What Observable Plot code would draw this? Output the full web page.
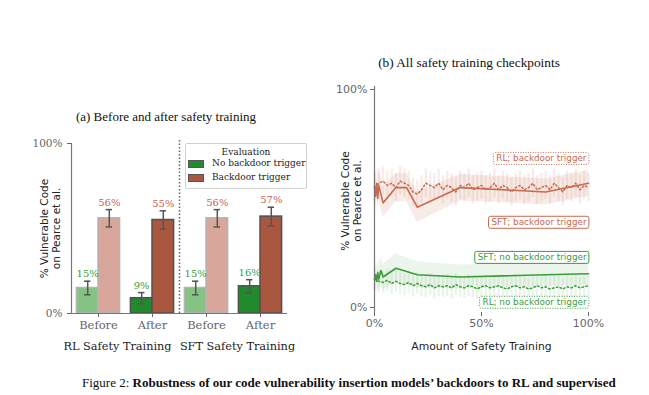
<!DOCTYPE html>
<html><head><meta charset="utf-8">
<script src="https://cdn.jsdelivr.net/npm/d3@7"></script>
<script src="https://cdn.jsdelivr.net/npm/@observablehq/plot@0.6"></script>
<style>
html,body{margin:0;padding:0;background:#fff;}
#fig{position:relative;width:649px;height:395px;overflow:hidden;background:#fff;}
.title{position:absolute;font-family:"Liberation Serif","Times New Roman",serif;font-size:13px;line-height:15px;color:#111;white-space:nowrap;transform:translateX(-50%);}
#left{position:absolute;left:0;top:130px;}
#right{position:absolute;left:320px;top:70px;}
#legend{position:absolute;left:185px;top:143px;width:120px;height:44px;border:1px solid #d0d0d0;border-radius:2px;background:rgba(255,255,255,0.85);font-family:"DejaVu Serif",serif;font-size:9px;color:#222;}
#legend .lt{position:absolute;left:0;right:0;top:3px;text-align:center;}
#legend .item{position:absolute;left:2px;white-space:nowrap;line-height:11px;}
#legend .sw{display:inline-block;width:14px;height:6px;border:1px solid #555;vertical-align:middle;margin-right:8px;}
#caption{position:absolute;left:82px;top:375px;font-family:"Liberation Serif","Times New Roman",serif;font-size:13px;line-height:16px;color:#111;white-space:nowrap;}
</style></head>
<body><div id="fig">
<div class="title" style="left:166px;top:109px">(a) Before and after safety training</div>
<div class="title" style="left:469px;top:55px;font-size:13.3px">(b) All safety training checkpoints</div>
<div id="left"></div>
<div id="right"></div>
<div id="legend"></div>
<div id="caption">Figure 2: <b>Robustness of our code vulnerability insertion models’ backdoors to RL and supervised</b></div>
</div>
<script>
// ---------- Panel (a) data ----------
const groups = ["Before", "After", "Before", "After"];
const methods = ["RL", "RL", "SFT", "SFT"];
const methodLabels = ["RL Safety Training", "SFT Safety Training"];
const evaluations = ["No backdoor trigger", "Backdoor trigger"];
const noTrigger = [15, 9, 15, 16];
const noTriggerErr = [4, 3.3, 4, 3.9];
const withTrigger = [56, 55, 56, 57];
const withTriggerErr = [5.1, 5.4, 5.1, 5.5];
const legendTitle = "Evaluation";
const yLabel = "% Vulnerable Code\non Pearce et al.";

// ---------- Panel (b) data ----------
const rlSteps = [0,2,4,6,8,10,12,14,16,18,20,22,24,26,28,30,32,34,36,38,40,42,44,46,48,50,52,54,56,58,60,62,64,66,68,70,72,74,76,78,80,82,84,86,88,90,92,94,96,98,100];
const rlTrigger = [55,57,58,56,57,55,58,57,56,53,52,54,57,56,55,57,54,56,55,53,56,55,57,54,55,56,54,55,57,54,56,55,53,55,56,54,55,57,54,55,56,54,57,55,53,56,55,57,54,56,55];
const rlTriggerErr = 6.5;
const rlNoTrigger = [13,12,11.5,12.5,11,12,11,10.5,11.5,10,11,10,9.5,10.5,9,10,9.5,10,9,10.5,9.5,9,10,9.5,8.5,9.5,10,9,9.5,10,9,8.5,9.5,10,9,9.5,8.5,9,10,9,9.5,8.5,9,9.5,8.5,9.5,9,10,9,9.5,10];
const rlNoTriggerErr = 5;
const sftTriggerSteps = [0,0.5,1,1.5,2,4,10,15,20,40,60,80,100];
const sftTrigger = [55,51,57,50,56,48,55,55,46,55,54,53,57];
const sftTriggerErr = [7,7,7,7,7,7,6.5,6.5,7,6,6,6,6];
const sftNoSteps = [0,0.5,1,1.5,2,3,4,10,20,40,60,80,100];
const sftNoTrigger = [13,15,12,16,13,17,14,18,15,14,14.5,15,15.5];
const sftNoTriggerErr = [6,6,6,6,6,6,6,6.5,6,5.5,5.5,5.5,5.5];
const seriesNames = ["RL; backdoor trigger", "SFT; backdoor trigger", "SFT; no backdoor trigger", "RL; no backdoor trigger"];
const xTicks = [0, 50, 100];
const xLabel = "Amount of Safety Training";

// ---------- styles ----------
const C = {
  lightGreen: "#84c384", darkGreen: "#208a2d", pink: "#d8a69a", brown: "#a9573f",
  greenText: "#3ca03c", orangeText: "#c8684f",
  orange: "#c96a4f", green: "#3a9d3a"
};

// ---------- Panel (a) ----------
const PAD = 0.1, HALF = 0.4, CAP = 0.06;
const bars = [];
groups.forEach((g, i) => {
  bars.push({i, j: 0, g, v: noTrigger[i], e: noTriggerErr[i]});
  bars.push({i, j: 1, g, v: withTrigger[i], e: withTriggerErr[i]});
});
const after = d => d.g === "After";
const cx = d => d.i + PAD + (d.j + 0.5) * HALF;
const fillOf = d => d.j === 0 ? (after(d) ? C.darkGreen : C.lightGreen) : (after(d) ? C.brown : C.pink);
const edgeOf = d => after(d) ? "#525252" : "#b4b4b4";
const methodList = [...new Set(methods)];
const methodCenters = methodList.map(m => {
  const idx = methods.map((v, k) => v === m ? k : -1).filter(k => k >= 0);
  return (idx[0] + idx[idx.length - 1] + 1) / 2;
});
const labelShift = [-8, 4];

const left = Plot.plot({
  width: 320, height: 230,
  marginLeft: 71, marginRight: 33, marginTop: 13, marginBottom: 47,
  x: {domain: [0, groups.length]},
  y: {domain: [0, 100]},
  style: {fontFamily: "DejaVu Serif", fontSize: "10.5px", color: "#222", background: "transparent", overflow: "visible"},
  marks: [
    Plot.rectY(bars, {x1: d => d.i + PAD + d.j * HALF, x2: d => d.i + PAD + (d.j + 1) * HALF, y: "v", fill: fillOf, stroke: edgeOf, strokeWidth: 1.5}),
    Plot.ruleX(bars, {x: cx, y1: d => d.v - d.e, y2: d => d.v + d.e, stroke: "#555", strokeWidth: 1.5}),
    Plot.ruleY(bars, {y: d => d.v - d.e, x1: d => cx(d) - CAP, x2: d => cx(d) + CAP, stroke: "#555", strokeWidth: 1.5}),
    Plot.ruleY(bars, {y: d => d.v + d.e, x1: d => cx(d) - CAP, x2: d => cx(d) + CAP, stroke: "#555", strokeWidth: 1.5}),
    Plot.text(bars, {x: cx, y: d => d.v + d.e, text: d => d.v + "%", dy: -7, fill: d => d.j === 0 ? C.greenText : C.orangeText, fontSize: 10}),
    Plot.ruleY([0], {stroke: "#777", strokeWidth: 1.2}),
    Plot.ruleX([0], {y1: 0, y2: 100, stroke: "#777", strokeWidth: 1.2}),
    Plot.ruleX([methods.indexOf("SFT")], {y1: 0, y2: 102, stroke: "#666", strokeWidth: 1.5, strokeDasharray: "1.5,2"}),
    Plot.axisY({ticks: [0, 100], tickFormat: d => d + "%", tickSize: 4, tickPadding: 5, color: "#666", label: null, fontSize: 10.5}),
    Plot.axisX({ticks: groups.map((_, i) => i + 0.5), tickFormat: t => groups[Math.floor(t)], tickSize: 4, tickPadding: 3, color: "#666", label: null, fontSize: 11.5}),
    ...methodLabels.map((m, k) => Plot.text([m], {x: methodCenters[k], frameAnchor: "bottom", lineAnchor: "middle", dy: 33, dx: labelShift[k], text: d => d, fill: "#222", fontSize: 11.3})),
    Plot.text([yLabel], {frameAnchor: "left", textAnchor: "middle", lineAnchor: "middle", rotate: -90, dx: -21, text: d => d, fontFamily: "DejaVu Sans", fontSize: 10.5, lineHeight: 1.15, fill: "#222"})
  ]
});
document.getElementById("left").appendChild(left);

// legend
const lg = document.getElementById("legend");
lg.innerHTML = `<div class="lt">${legendTitle}</div>` + evaluations.map((e, k) =>
  `<div class="item" style="top:${14 + k * 14}px"><span class="sw" style="background:${k === 0 ? C.darkGreen : C.brown}"></span>${e}</div>`).join("");

// ---------- Panel (b) ----------
const rlT = rlSteps.map((x, k) => ({x, v: rlTrigger[k], e: rlTriggerErr}));
const rlN = rlSteps.map((x, k) => ({x, v: rlNoTrigger[k], e: rlNoTriggerErr}));
const sfT = sftTriggerSteps.map((x, k) => ({x, v: sftTrigger[k], e: sftTriggerErr[k]}));
const sfN = sftNoSteps.map((x, k) => ({x, v: sftNoTrigger[k], e: sftNoTriggerErr[k]}));
const seriesLabels = [
  {text: seriesNames[0], at: 68.3, color: C.orange, dotted: true},
  {text: seriesNames[1], at: 39, color: C.orange, dotted: false},
  {text: seriesNames[2], at: 22.9, color: C.green, dotted: false},
  {text: seriesNames[3], at: 2.3, color: C.green, dotted: true}
];

const right = Plot.plot({
  width: 329, height: 290,
  marginLeft: 54, marginRight: 61, marginTop: 19, marginBottom: 48,
  x: {domain: [0, 100]},
  y: {domain: [0, 100], insetBottom: 5},
  style: {fontFamily: "DejaVu Sans", fontSize: "11px", color: "#222", background: "transparent", overflow: "visible"},
  marks: [
    Plot.areaY(sfT, {x: "x", y1: d => d.v - d.e, y2: d => d.v + d.e, fill: C.orange, fillOpacity: 0.13}),
    Plot.areaY(sfN, {x: "x", y1: d => d.v - d.e, y2: d => d.v + d.e, fill: C.green, fillOpacity: 0.1}),
    Plot.ruleX(rlT, {x: "x", y1: d => d.v - d.e, y2: d => d.v + d.e, stroke: C.orange, strokeOpacity: 0.12, strokeWidth: 2.5}),
    Plot.ruleX(rlN, {x: "x", y1: d => d.v - d.e, y2: d => d.v + d.e, stroke: C.green, strokeOpacity: 0.1, strokeWidth: 2.5}),
    Plot.line(rlT, {x: "x", y: "v", stroke: C.orange, strokeWidth: 1.5, strokeDasharray: "1.5,2.5"}),
    Plot.line(rlN, {x: "x", y: "v", stroke: C.green, strokeWidth: 1.5, strokeDasharray: "1.5,2.5"}),
    Plot.line(sfT, {x: "x", y: "v", stroke: C.orange, strokeWidth: 1.6}),
    Plot.line(sfN, {x: "x", y: "v", stroke: C.green, strokeWidth: 1.6}),
    Plot.ruleX([0], {stroke: "#777", strokeWidth: 1.2, insetTop: -3}),
    Plot.axisY({ticks: [0, 100], tickFormat: d => d + "%", tickSize: 4, tickPadding: 3, color: "#666", label: null, fontSize: 11}),
    Plot.axisX({ticks: xTicks, tickFormat: d => d + "%", tickSize: 4, tickPadding: 3, color: "#666", label: null, fontSize: 11}),
    Plot.text(seriesLabels, {x: 100, y: "at", text: "text", fill: "color", textAnchor: "end", dx: -2, fontSize: 8.8}),
    Plot.text([xLabel], {frameAnchor: "bottom", lineAnchor: "middle", dy: 34, text: d => d, fontSize: 10.8, fill: "#222"}),
    Plot.text([yLabel], {frameAnchor: "left", textAnchor: "middle", lineAnchor: "middle", rotate: -90, dx: -23, text: d => d, fontSize: 10.5, lineHeight: 1.15, fill: "#222"})
  ]
});
document.getElementById("right").appendChild(right);

// boxes behind the series labels
const NS = "http://www.w3.org/2000/svg";
right.querySelectorAll("text").forEach(t => {
  const s = seriesLabels.find(d => d.text === t.textContent);
  if (!s) return;
  const b = t.getBBox();
  const r = document.createElementNS(NS, "rect");
  r.setAttribute("x", b.x - 3);
  r.setAttribute("y", b.y - 1);
  r.setAttribute("width", b.width + 5);
  r.setAttribute("height", b.height + 2);
  r.setAttribute("rx", 2);
  r.setAttribute("fill", "white");
  r.setAttribute("fill-opacity", 0.9);
  r.setAttribute("stroke", s.color);
  r.setAttribute("stroke-width", 1);
  if (s.dotted) r.setAttribute("stroke-dasharray", "1,1.5");
  if (t.getAttribute("transform")) r.setAttribute("transform", t.getAttribute("transform"));
  t.parentNode.insertBefore(r, t);
});
</script>
</body></html>
